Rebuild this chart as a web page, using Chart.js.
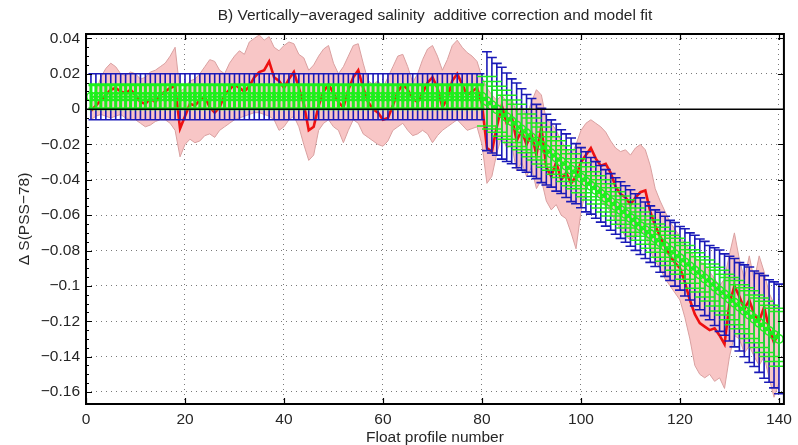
<!DOCTYPE html>
<html>
<head>
<meta charset="utf-8">
<script src="https://cdn.jsdelivr.net/npm/chart.js@4.4.1/dist/chart.umd.min.js"></script>
<style>
html,body{margin:0;padding:0;background:#fff;}
#c{display:block;}
</style>
</head>
<body>
<canvas id="c" width="798" height="445"></canvas>
<script>
// ---------------- DATA ----------------
const chartTitle = 'B) Vertically\u2212averaged salinity  additive correction and model fit';
const xAxisTitle = 'Float profile number';
const yAxisTitle = '\u0394 S(PSS\u221278)';

const xTickValues = [0, 20, 40, 60, 80, 100, 120, 140];
const xTickLabels = ['0', '20', '40', '60', '80', '100', '120', '140'];
const yTickValues = [0.04, 0.02, 0, -0.02, -0.04, -0.06, -0.08, -0.1, -0.12, -0.14, -0.16];
const yTickLabels = ['0.04', '0.02', '0', '\u22120.02', '\u22120.04', '\u22120.06', '\u22120.08', '\u22120.1', '\u22120.12', '\u22120.14', '\u22120.16'];

const profiles = [
 1,2,3,4,5,6,7,8,9,10,11,12,13,14,15,16,17,18,19,20,
 21,22,23,24,25,26,27,28,29,30,31,32,33,34,35,36,37,38,39,40,
 41,42,43,44,45,46,47,48,49,50,51,52,53,54,55,56,57,58,59,60,
 61,62,63,64,65,66,67,68,69,70,71,72,73,74,75,76,77,78,79,80,
 81,82,83,84,85,86,87,88,89,90,91,92,93,94,95,96,97,98,99,100,
 101,102,103,104,105,106,107,108,109,110,111,112,113,114,115,116,117,118,119,120,
 121,122,123,124,125,126,127,128,129,130,131,132,133,134,135,136,137,138,139,140];

// vertically averaged salinity correction (red line)
const deltaS = [
 -0.001,0.002,0.005,0.008,0.011,0.012,0.010,0.009,0.011,0.008,0.004,0.003,0.006,0.004,0.008,0.010,0.012,0.013,-0.011,-0.004,
 0.003,0.002,0.005,0.007,0.001,-0.002,0.001,0.008,0.011,0.014,0.012,0.010,0.013,0.018,0.021,0.022,0.027,0.018,0.016,0.012,
 0.017,0.021,0.012,0.003,-0.012,-0.010,0.002,0.010,0.014,0.009,0.004,0.001,0.011,0.018,0.022,0.012,0.004,0.000,-0.002,-0.006,
 -0.005,0.002,0.010,0.014,0.011,0.006,0.004,0.009,0.015,0.018,0.012,0.001,0.006,0.016,0.020,0.014,0.008,0.010,0.012,0.003,
 -0.022,-0.024,-0.010,0.002,-0.008,-0.004,-0.018,-0.012,-0.020,-0.014,-0.026,-0.010,-0.033,-0.038,-0.030,-0.040,-0.036,-0.042,-0.038,-0.030,
 -0.026,-0.022,-0.028,-0.032,-0.031,-0.036,-0.044,-0.048,-0.050,-0.054,-0.050,-0.047,-0.046,-0.058,-0.066,-0.072,-0.078,-0.083,-0.087,-0.090,
 -0.098,-0.108,-0.116,-0.121,-0.123,-0.125,-0.124,-0.128,-0.133,-0.110,-0.100,-0.106,-0.113,-0.108,-0.116,-0.120,-0.112,-0.124,-0.132,-0.126];

// upper / lower envelope of the salinity correction (pink band)
const deltaSUpper = [
 0.004,0.010,0.018,0.023,0.026,0.024,0.020,0.019,0.021,0.020,0.017,0.018,0.021,0.022,0.024,0.026,0.030,0.035,0.010,0.012,
 0.016,0.017,0.020,0.024,0.028,0.027,0.022,0.020,0.026,0.030,0.033,0.031,0.038,0.040,0.042,0.039,0.041,0.035,0.033,0.036,
 0.038,0.037,0.031,0.029,0.022,0.025,0.030,0.034,0.036,0.026,0.020,0.024,0.030,0.036,0.037,0.026,0.016,0.014,0.016,0.012,
 0.018,0.024,0.030,0.031,0.024,0.015,0.020,0.028,0.034,0.036,0.030,0.022,0.028,0.036,0.039,0.035,0.032,0.030,0.027,0.018,
 0.012,0.008,0.005,0.008,0.004,0.006,-0.002,0.002,-0.004,0.004,0.011,0.008,-0.006,-0.008,-0.012,-0.018,-0.022,-0.026,-0.020,-0.012,
 -0.008,-0.006,-0.008,-0.010,-0.013,-0.018,-0.022,-0.024,-0.023,-0.026,-0.022,-0.020,-0.023,-0.032,-0.045,-0.052,-0.058,-0.064,-0.068,-0.072,
 -0.076,-0.080,-0.084,-0.086,-0.088,-0.092,-0.096,-0.100,-0.096,-0.082,-0.070,-0.085,-0.096,-0.083,-0.097,-0.083,-0.092,-0.104,-0.110,-0.112];
const deltaSLower = [
 -0.006,-0.004,-0.003,-0.004,-0.005,-0.004,-0.003,-0.005,-0.006,-0.006,-0.008,-0.010,-0.009,-0.007,-0.006,-0.006,-0.008,-0.012,-0.027,-0.020,
 -0.017,-0.019,-0.018,-0.015,-0.014,-0.016,-0.012,-0.010,-0.008,-0.006,-0.005,-0.004,-0.003,-0.002,-0.002,-0.003,-0.004,-0.006,-0.012,-0.010,
 -0.006,-0.004,-0.010,-0.020,-0.029,-0.026,-0.012,-0.008,-0.006,-0.010,-0.012,-0.019,-0.012,-0.006,-0.008,-0.014,-0.016,-0.018,-0.020,-0.021,
 -0.018,-0.012,-0.010,-0.008,-0.012,-0.015,-0.014,-0.012,-0.014,-0.019,-0.015,-0.012,-0.010,-0.008,-0.006,-0.009,-0.012,-0.011,-0.010,-0.020,
 -0.042,-0.038,-0.025,-0.015,-0.022,-0.020,-0.035,-0.030,-0.038,-0.033,-0.045,-0.040,-0.052,-0.057,-0.054,-0.060,-0.062,-0.070,-0.079,-0.058,
 -0.046,-0.040,-0.046,-0.052,-0.055,-0.058,-0.064,-0.068,-0.072,-0.074,-0.072,-0.070,-0.070,-0.080,-0.086,-0.090,-0.096,-0.100,-0.104,-0.108,
 -0.118,-0.130,-0.145,-0.150,-0.152,-0.150,-0.154,-0.152,-0.158,-0.140,-0.128,-0.130,-0.138,-0.134,-0.140,-0.145,-0.140,-0.152,-0.163,-0.155];

// model fit (centre of the error bars)
const modelFit = [
 0.007,0.007,0.007,0.007,0.007,0.007,0.007,0.007,0.007,0.007,0.007,0.007,0.007,0.007,0.007,0.007,0.007,0.007,0.007,0.007,
 0.007,0.007,0.007,0.007,0.007,0.007,0.007,0.007,0.007,0.007,0.007,0.007,0.007,0.007,0.007,0.007,0.007,0.007,0.007,0.007,
 0.007,0.007,0.007,0.007,0.007,0.007,0.007,0.007,0.007,0.007,0.007,0.007,0.007,0.007,0.007,0.007,0.007,0.007,0.007,0.007,
 0.007,0.007,0.007,0.007,0.007,0.007,0.007,0.007,0.007,0.007,0.007,0.007,0.007,0.007,0.007,0.007,0.007,0.007,0.007,0.007,
 0.0045,0.0022,-0.0001,-0.0023,-0.0046,-0.0069,-0.0092,-0.0115,-0.0137,-0.0160,-0.0183,-0.0206,-0.0229,-0.0251,-0.0274,-0.0297,-0.0320,-0.0343,-0.0365,-0.0388,
 -0.0411,-0.0434,-0.0457,-0.0479,-0.0502,-0.0525,-0.0548,-0.0571,-0.0593,-0.0616,-0.0639,-0.0662,-0.0685,-0.0707,-0.0730,-0.0753,-0.0776,-0.0799,-0.0821,-0.0844,
 -0.0867,-0.0890,-0.0913,-0.0935,-0.0958,-0.0981,-0.1004,-0.1027,-0.1049,-0.1072,-0.1095,-0.1118,-0.1141,-0.1163,-0.1186,-0.1209,-0.1232,-0.1255,-0.1277,-0.1300];

// half-width of the wide (blue) error bars
const errWide = [
 0.013,0.013,0.013,0.013,0.013,0.013,0.013,0.013,0.013,0.013,0.013,0.013,0.013,0.013,0.013,0.013,0.013,0.013,0.013,0.013,
 0.013,0.013,0.013,0.013,0.013,0.013,0.013,0.013,0.013,0.013,0.013,0.013,0.013,0.013,0.013,0.013,0.013,0.013,0.013,0.013,
 0.013,0.013,0.013,0.013,0.013,0.013,0.013,0.013,0.013,0.013,0.013,0.013,0.013,0.013,0.013,0.013,0.013,0.013,0.013,0.013,
 0.013,0.013,0.013,0.013,0.013,0.013,0.013,0.013,0.013,0.013,0.013,0.013,0.013,0.013,0.013,0.013,0.013,0.013,0.013,0.013,
 0.028,0.027,0.026,0.026,0.025,0.024,0.024,0.023,0.022,0.022,0.021,0.021,0.020,0.019,0.019,0.018,0.018,0.018,0.017,0.017,
 0.017,0.016,0.016,0.016,0.016,0.016,0.016,0.016,0.016,0.016,0.016,0.016,0.016,0.016,0.016,0.017,0.017,0.017,0.018,0.018,
 0.019,0.019,0.020,0.020,0.021,0.021,0.022,0.023,0.023,0.024,0.025,0.025,0.026,0.027,0.027,0.028,0.029,0.029,0.030,0.031];

// half-width of the narrow (green) error bars
const errNarrow = [
 0.0068,0.0068,0.0068,0.0068,0.0068,0.0068,0.0068,0.0068,0.0068,0.0068,0.0068,0.0068,0.0068,0.0068,0.0068,0.0068,0.0068,0.0068,0.0068,0.0068,
 0.0068,0.0068,0.0068,0.0068,0.0068,0.0068,0.0068,0.0068,0.0068,0.0068,0.0068,0.0068,0.0068,0.0068,0.0068,0.0068,0.0068,0.0068,0.0068,0.0068,
 0.0068,0.0068,0.0068,0.0068,0.0068,0.0068,0.0068,0.0068,0.0068,0.0068,0.0068,0.0068,0.0068,0.0068,0.0068,0.0068,0.0068,0.0068,0.0068,0.0068,
 0.0068,0.0068,0.0068,0.0068,0.0068,0.0068,0.0068,0.0068,0.0068,0.0068,0.0068,0.0068,0.0068,0.0068,0.0068,0.0068,0.0068,0.0068,0.0068,0.0068,
 0.014,0.0135,0.013,0.013,0.0125,0.012,0.012,0.0115,0.011,0.011,0.0105,0.0105,0.010,0.0095,0.0095,0.009,0.009,0.009,0.0085,0.0085,
 0.0085,0.008,0.008,0.008,0.008,0.008,0.008,0.008,0.008,0.008,0.008,0.008,0.008,0.008,0.008,0.0085,0.0085,0.0085,0.009,0.009,
 0.0095,0.0095,0.010,0.010,0.0105,0.0105,0.011,0.0115,0.0115,0.012,0.0125,0.0125,0.013,0.0135,0.0135,0.014,0.0145,0.0145,0.015,0.0155];

const zeroLineX = [0, 141];
const zeroLineY = [0, 0];

// ---------------- BUILD ----------------
const FONT = '"Liberation Sans", Arial, Helvetica, sans-serif';
const TEXT = '#262626';
const GREEN = '#1cf01c';

// error bar segments (vertical bar + two caps) for profiles in [from, to]
function errorBarPoints(from, to, cap, halves) {
  const pts = [];
  for (let i = 0; i < profiles.length; i++) {
    const x = profiles[i];
    if (x < from || x > to) continue;
    const c = modelFit[i], h = halves[i];
    pts.push({x: x, y: c - h}, {x: x, y: c + h}, {x: x, y: null});
    pts.push({x: x - cap, y: c + h}, {x: x + cap, y: c + h}, {x: x, y: null});
    pts.push({x: x - cap, y: c - h}, {x: x + cap, y: c - h}, {x: x, y: null});
  }
  return pts;
}
const pair = (xs, ys) => xs.map((x, i) => ({x: x, y: ys[i]}));

const axesBox = {
  id: 'axesBox',
  afterDraw(chart) {
    const {ctx, chartArea: a, scales: {x, y}} = chart;
    ctx.save();
    ctx.strokeStyle = '#000';
    ctx.lineWidth = 1.2;
    ctx.beginPath();
    xTickValues.forEach(v => {
      const px = Math.round(x.getPixelForValue(v)) + 0.5;
      ctx.moveTo(px, a.bottom); ctx.lineTo(px, a.bottom - 6);
      ctx.moveTo(px, a.top); ctx.lineTo(px, a.top + 6);
    });
    yTickValues.forEach(v => {
      const py = Math.round(y.getPixelForValue(v)) + 0.5;
      ctx.moveTo(a.left, py); ctx.lineTo(a.left + 6, py);
      ctx.moveTo(a.right, py); ctx.lineTo(a.right - 6, py);
    });
    for (let k = 0; k < yTickValues.length - 1; k++) {
      const v0 = yTickValues[k], v1 = yTickValues[k + 1];
      for (let m = 1; m < 4; m++) {
        const py = Math.round(y.getPixelForValue(v0 + (v1 - v0) * m / 4)) + 0.5;
        ctx.moveTo(a.left, py); ctx.lineTo(a.left + 3, py);
      }
    }
    ctx.stroke();
    ctx.lineWidth = 2;
    ctx.strokeRect(a.left, a.top, a.right - a.left, a.bottom - a.top);
    ctx.restore();
  }
};

new Chart(document.getElementById('c'), {
  type: 'line',
  data: {
    datasets: [
      { label: 'zero', data: pair(zeroLineX, zeroLineY), borderColor: '#000', borderWidth: 1.5, pointRadius: 0, order: 0 },
      { label: 'fit', data: pair(profiles, modelFit), borderColor: GREEN, borderWidth: 2, pointRadius: 4.2, pointStyle: 'circle', pointBorderColor: GREEN, pointBackgroundColor: 'rgba(0,0,0,0)', pointBorderWidth: 1.6, order: 1 },
      { label: 'narrowFlat', data: errorBarPoints(1, 80, 0.5, errNarrow), borderColor: GREEN, borderWidth: 3, pointRadius: 0, spanGaps: false, order: 2 },
      { label: 'narrowSlope', data: errorBarPoints(81, 140, 2.0, errNarrow), borderColor: GREEN, borderWidth: 1.5, pointRadius: 0, spanGaps: false, order: 2 },
      { label: 'wideFlat', data: errorBarPoints(1, 80, 0.5, errWide), borderColor: '#1a1ab8', borderWidth: 1.6, pointRadius: 0, spanGaps: false, order: 3 },
      { label: 'wideSlope', data: errorBarPoints(81, 140, 1.0, errWide), borderColor: '#1a1ab8', borderWidth: 1.6, pointRadius: 0, spanGaps: false, order: 3 },
      { label: 'deltaS', data: pair(profiles, deltaS), borderColor: '#ee1111', borderWidth: 2.6, pointRadius: 0, order: 4 },
      { label: 'lower', data: pair(profiles, deltaSLower), borderColor: '#d9a0a0', borderWidth: 1, pointRadius: 0, fill: false, order: 5 },
      { label: 'upper', data: pair(profiles, deltaSUpper), borderColor: '#d9a0a0', borderWidth: 1, pointRadius: 0, fill: '-1', backgroundColor: '#f8c6c6', order: 6 }
    ]
  },
  options: {
    responsive: false,
    animation: false,
    devicePixelRatio: 1,
    layout: { padding: { left: 0, right: 7, top: 0, bottom: 0 } },
    plugins: {
      legend: { display: false },
      tooltip: { enabled: false },
      filler: { propagate: false },
      title: {
        display: true, text: chartTitle, fullSize: false, color: TEXT,
        font: { family: FONT, size: 15.5, weight: 'normal', lineHeight: 1.2 },
        padding: { top: 6.7, bottom: 8.7 }
      }
    },
    scales: {
      x: {
        type: 'linear', min: 0, max: 141,
        afterBuildTicks: s => { s.ticks = xTickValues.map(v => ({value: v})); },
        afterFit: s => { s.height = 41; },
        grid: { color: '#7a7a7a', lineWidth: 1, drawTicks: false },
        border: { display: false, dash: [1, 4] },
        ticks: { autoSkip: false, maxRotation: 0, padding: 6, color: TEXT,
          font: { family: FONT, size: 15.5 },
          callback: (v, i) => xTickLabels[i] },
        title: { display: true, text: xAxisTitle, color: TEXT,
          font: { family: FONT, size: 15.5, lineHeight: 1 }, padding: { top: 0, bottom: 0 } }
      },
      y: {
        type: 'linear', min: -0.1668, max: 0.0425,
        afterBuildTicks: s => { s.ticks = yTickValues.map(v => ({value: v})); },
        afterFit: s => { s.width = 86; },
        grid: { color: '#7a7a7a', lineWidth: 1, drawTicks: false },
        border: { display: false, dash: [1, 4] },
        ticks: { autoSkip: false, padding: 6, color: TEXT,
          font: { family: FONT, size: 15.5 },
          callback: (v, i) => yTickLabels[i] },
        title: { display: true, text: yAxisTitle, color: TEXT,
          font: { family: FONT, size: 15.5, lineHeight: 1 }, padding: { top: 17, bottom: 0 } }
      }
    }
  },
  plugins: [axesBox]
});
</script>
</body>
</html>
